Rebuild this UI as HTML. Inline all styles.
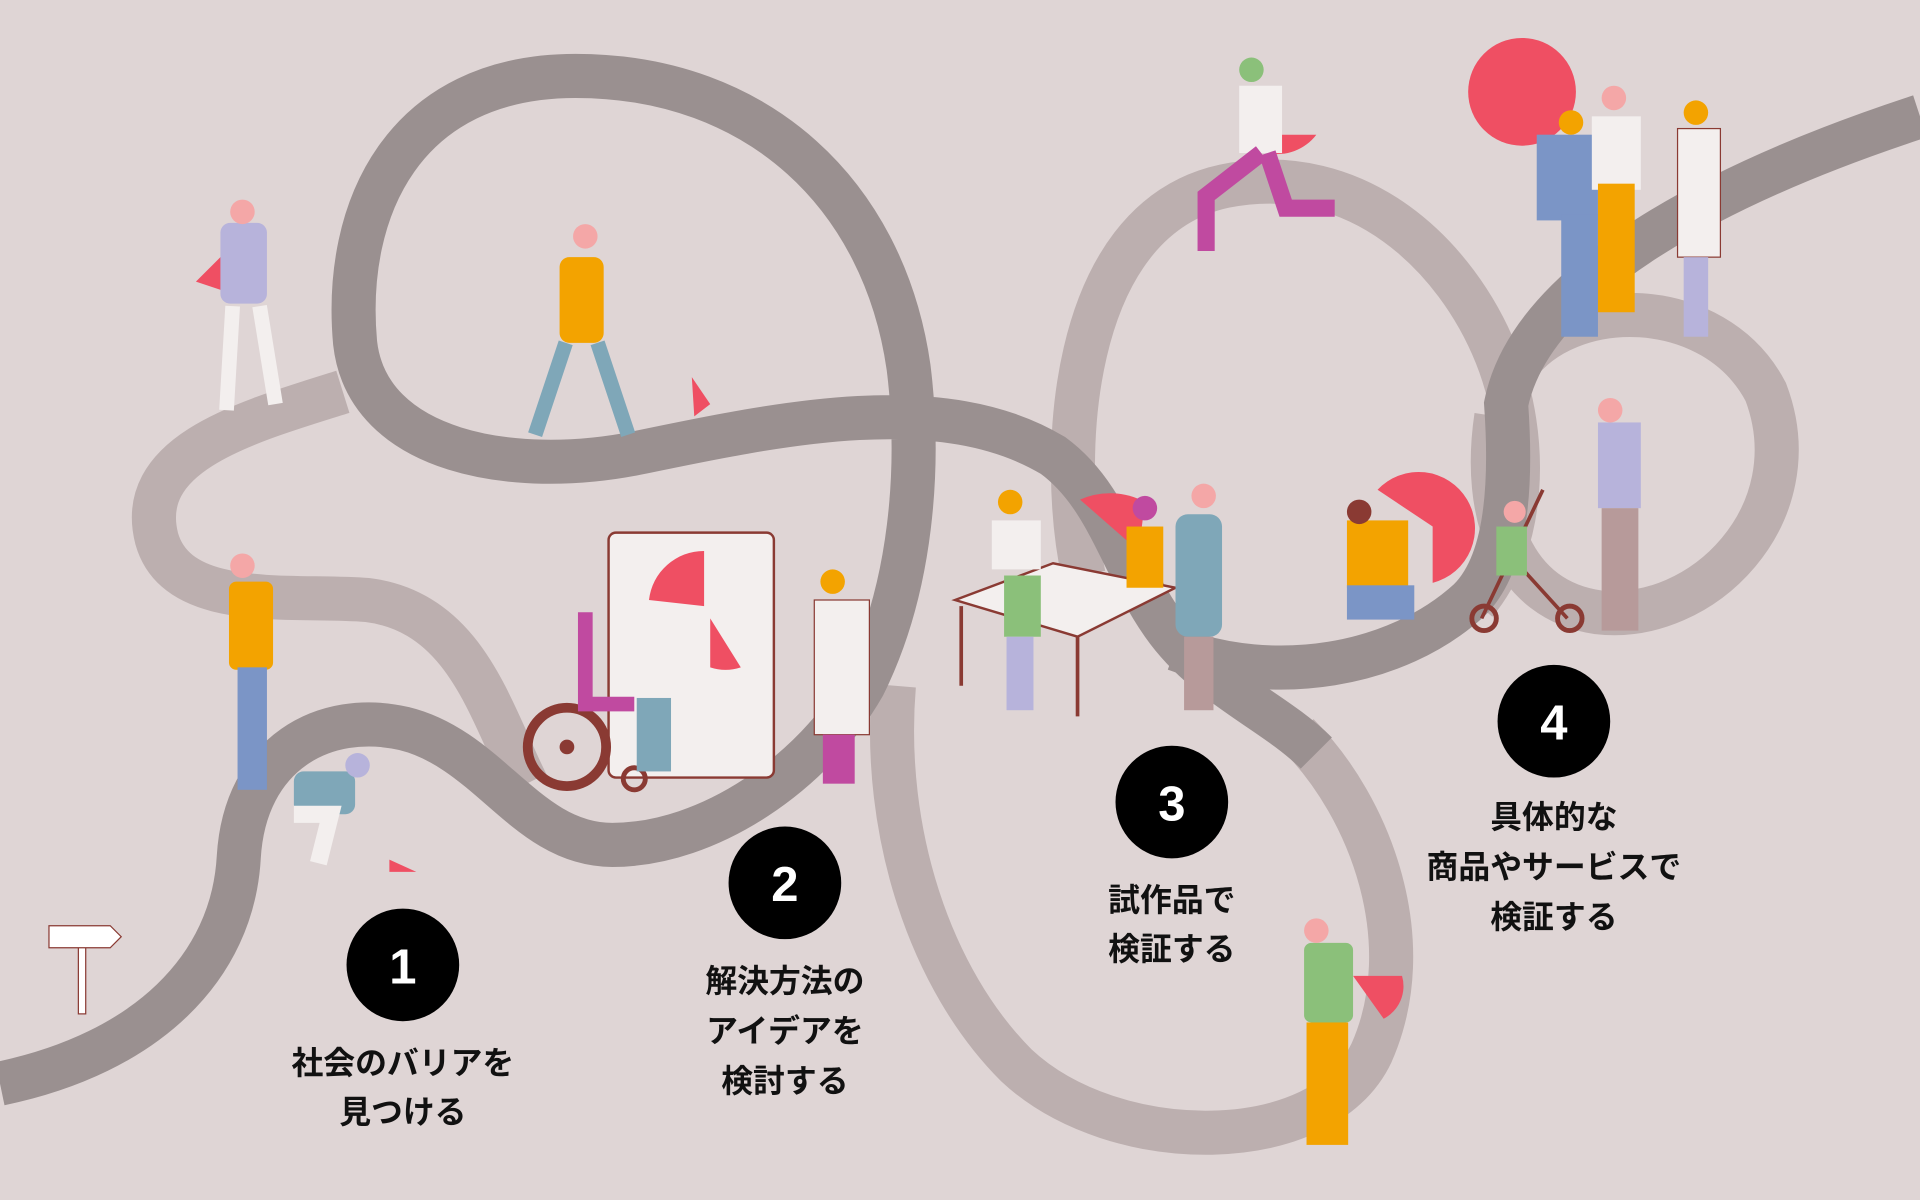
<!DOCTYPE html>
<html><head><meta charset="utf-8"><style>
html,body{margin:0;padding:0;background:#dfd5d5;}
svg{display:block;}
text{font-family:"Liberation Sans","Noto Sans CJK JP",sans-serif;font-weight:bold;fill:#111;}
</style></head><body>
<svg width="1920" height="1200" viewBox="0 0 1568 980" preserveAspectRatio="none" xmlns="http://www.w3.org/2000/svg">
<rect width="1568" height="980" fill="#dfd5d5"/>
<g fill="none" stroke-linecap="butt" stroke-width="36">
<!-- light strands -->
<path stroke="#bcafaf" d="M280,320 C200,345 110,370 128,440 C145,500 240,485 300,490 C380,500 400,580 430,640"/>
<path stroke="#bcafaf" d="M730,560 C720,680 760,800 830,870 C910,945 1080,945 1120,860 C1160,770 1120,660 1060,600"/>
<path stroke="#bcafaf" d="M885,470 C865,380 870,180 1000,152 C1110,130 1190,210 1222,290 C1250,360 1245,445 1205,492"/>
<path stroke="#bcafaf" d="M1238,300 C1280,240 1400,240 1442,320 C1480,420 1390,510 1305,500 C1235,490 1210,420 1222,340"/>
<!-- dark strands -->
<path stroke="#9a9090" d="M0,885 C120,860 190,790 195,700 C200,615 265,580 330,595 C400,612 430,690 500,690 C580,690 665,630 705,560 C745,480 752,380 742,300 C722,160 620,62 470,62 C330,62 280,170 290,280 C300,370 420,390 520,370 C640,345 770,318 860,372 C905,405 915,460 950,510 C985,560 1040,580 1075,615"/>
<path stroke="#9a9090" d="M960,530 C1040,560 1140,545 1200,490 C1230,460 1235,400 1230,330 C1250,230 1400,150 1568,95"/>
</g>
<!-- signpost -->
<rect x="64" y="768" width="6" height="60" fill="#fff" stroke="#8a3a33"/>
<path d="M40,756 H90 L99,765 L90,774 H40 Z" fill="#fff" stroke="#8a3a33"/>
<!-- whiteboard -->
<rect x="497" y="435" width="135" height="200" rx="6" fill="#f3efee" stroke="#8a3a33" stroke-width="2"/>
<path d="M575,450 A45,45 0 0 0 530,490 L575,495 Z" fill="#ef4f63"/>
<path d="M580,505 L605,545 A40,40 0 0 1 580,545 Z" fill="#ef4f63"/>
<!-- wheelchair -->
<circle cx="463" cy="610" r="32" fill="none" stroke="#8a3a33" stroke-width="8"/>
<circle cx="463" cy="610" r="6" fill="#8a3a33"/>
<circle cx="518" cy="636" r="9" fill="none" stroke="#8a3a33" stroke-width="4"/>
<path d="M478,500 l0,75 l40,0" stroke="#c04aa0" stroke-width="12" fill="none"/>
<rect x="520" y="570" width="28" height="60" fill="#7fa7b8"/>
<!-- table -->
<path d="M780,490 L860,460 L960,480 L880,520 Z" fill="#f3efee" stroke="#8a3a33" stroke-width="2"/>
<path d="M785,495 V560 M880,520 V585" stroke="#8a3a33" stroke-width="3"/>
<!-- red pies -->
<circle cx="1243" cy="75" r="44" fill="#ef4f63"/>
<path d="M1170,430 L1125,400 A46,46 0 1 1 1170,476 Z" fill="#ef4f63"/>
<path d="M930,450 L882,408 A60,60 0 0 1 935,410 Z" fill="#ef4f63"/>
<path d="M1020,110 L1075,110 A40,40 0 0 1 1035,125 Z" fill="#ef4f63"/>
<path d="M1105,797 h40 a30,30 0 0 1 -15,35 Z" fill="#ef4f63"/>
<path d="M190,200 L190,240 L160,230 Z" fill="#ef4f63"/>
<path d="M565,308 L580,330 L567,340 Z" fill="#ef4f63"/>
<path d="M318,702 L340,712 L318,712 Z" fill="#ef4f63"/>
<!-- people simplified -->
<g>
<rect x="180" y="182" width="38" height="66" rx="8" fill="#b7b3db"/><path d="M190,250 L185,335 M212,250 L225,330" stroke="#f3efee" stroke-width="12"/><circle cx="198" cy="173" r="10" fill="#f4a7a7"/>
<rect x="457" y="210" width="36" height="70" rx="8" fill="#f3a300"/><path d="M462,280 L437,355 M488,280 L513,355" stroke="#7fa7b8" stroke-width="12"/><circle cx="478" cy="193" r="10" fill="#f4a7a7"/>
<rect x="187" y="475" width="36" height="72" rx="6" fill="#f3a300"/><rect x="194" y="545" width="24" height="100" fill="#7b95c6"/><circle cx="198" cy="462" r="10" fill="#f4a7a7"/>
<rect x="240" y="630" width="50" height="35" rx="8" fill="#7fa7b8"/><path d="M240,665 L270,665 L260,705" stroke="#f3efee" stroke-width="14" fill="none"/><circle cx="292" cy="625" r="10" fill="#b7b3db"/>
<rect x="665" y="490" width="45" height="110" fill="#f3efee" stroke="#8a3a33"/><rect x="672" y="600" width="26" height="40" fill="#c04aa0"/><circle cx="680" cy="475" r="10" fill="#f3a300"/>
<rect x="810" y="425" width="40" height="40" fill="#f3efee"/><rect x="820" y="470" width="30" height="50" fill="#8bc07a"/><rect x="822" y="520" width="22" height="60" fill="#b7b3db"/><circle cx="825" cy="410" r="10" fill="#f3a300"/>
<rect x="920" y="430" width="30" height="50" fill="#f3a300"/><circle cx="935" cy="415" r="10" fill="#c04aa0"/>
<rect x="960" y="420" width="38" height="100" rx="10" fill="#7fa7b8"/><rect x="967" y="520" width="24" height="60" fill="#b79a9a"/><circle cx="983" cy="405" r="10" fill="#f4a7a7"/>
<rect x="1012" y="70" width="35" height="55" fill="#f3efee"/><path d="M1030,125 L985,160 L985,205 M1035,125 L1050,170 L1090,170" stroke="#c04aa0" stroke-width="14" fill="none"/><circle cx="1022" cy="57" r="10" fill="#8bc07a"/>
<rect x="1255" y="110" width="50" height="70" fill="#7b95c6"/><rect x="1275" y="175" width="30" height="100" fill="#7b95c6"/><circle cx="1283" cy="100" r="10" fill="#f3a300"/>
<rect x="1300" y="95" width="40" height="60" fill="#f3efee"/><rect x="1305" y="150" width="30" height="105" fill="#f3a300"/><circle cx="1318" cy="80" r="10" fill="#f4a7a7"/>
<rect x="1370" y="105" width="35" height="105" fill="#f3efee" stroke="#8a3a33"/><rect x="1375" y="210" width="20" height="65" fill="#b7b3db"/><circle cx="1385" cy="92" r="10" fill="#f3a300"/>
<rect x="1100" y="425" width="50" height="55" fill="#f3a300"/><rect x="1100" y="478" width="55" height="28" fill="#7b95c6"/><circle cx="1110" cy="418" r="10" fill="#8a3a33"/>
<rect x="1305" y="345" width="35" height="70" fill="#b7b3db"/><rect x="1308" y="415" width="30" height="100" fill="#b79a9a"/><circle cx="1315" cy="335" r="10" fill="#f4a7a7"/>
<circle cx="1212" cy="505" r="10" fill="none" stroke="#8a3a33" stroke-width="4"/><circle cx="1282" cy="505" r="10" fill="none" stroke="#8a3a33" stroke-width="4"/>
<path d="M1210,505 L1260,400 M1280,505 L1230,450" stroke="#8a3a33" stroke-width="3"/>
<rect x="1222" y="430" width="25" height="40" fill="#8bc07a"/><circle cx="1237" cy="418" r="9" fill="#f4a7a7"/>
<rect x="1065" y="770" width="40" height="65" rx="6" fill="#8bc07a"/><rect x="1067" y="835" width="34" height="100" fill="#f3a300"/><circle cx="1075" cy="760" r="10" fill="#f4a7a7"/>
</g>
<!-- number circles -->
<g text-anchor="middle">
<circle cx="329" cy="788" r="46" fill="#000"/><text x="329" y="803" font-size="40" style="fill:#fff">1</text>
<circle cx="641" cy="721" r="46" fill="#000"/><text x="641" y="736" font-size="40" style="fill:#fff">2</text>
<circle cx="957" cy="655" r="46" fill="#000"/><text x="957" y="670" font-size="40" style="fill:#fff">3</text>
<circle cx="1269" cy="589" r="46" fill="#000"/><text x="1269" y="604" font-size="40" style="fill:#fff">4</text>
<g font-size="26">
<text x="329" y="877">社会のバリアを</text><text x="329" y="917">見つける</text>
<text x="641" y="810">解決方法の</text><text x="641" y="851">アイデアを</text><text x="641" y="892">検討する</text>
<text x="957" y="744">試作品で</text><text x="957" y="784">検証する</text>
<text x="1269" y="676">具体的な</text><text x="1269" y="717">商品やサービスで</text><text x="1269" y="758">検証する</text>
</g>
</g>
</svg>
</body></html>
